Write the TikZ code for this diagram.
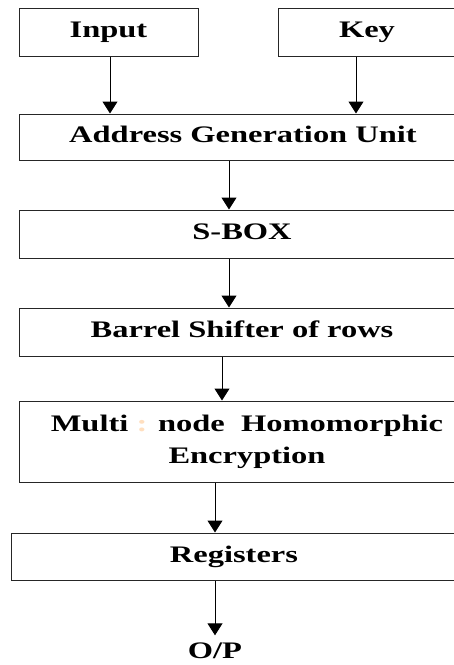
\documentclass[tikz,border=0pt]{standalone}
\usepackage{fontspec}
\setmainfont{Liberation Serif}[FakeStretch=1.37]
\usetikzlibrary{arrows.meta}
\begin{document}
\begin{tikzpicture}[x=1pt,y=-1pt,
  boxbase/.style={draw=black!85,line width=1pt,inner sep=0pt,
    font=\fontsize{23.7}{32}\selectfont\bfseries},
  box/.style={boxbase,text height=16pt,text depth=5pt},
  arr/.style={draw=black,line width=1pt,-{Triangle[width=15pt,length=12pt]}},
  lbl/.style={inner sep=0pt,text height=16pt,text depth=5pt,font=\fontsize{23.7}{32}\selectfont\bfseries}]
\useasboundingbox (0,0) rectangle (454,665);
\clip (0,0) rectangle (454,665);
\fill[white] (0,0) rectangle (454,665);
\node[box,minimum width=179pt,minimum height=48pt] (inp) at (108.5,32) {Input};
\node[box,minimum width=178pt,minimum height=48pt] (key) at (367,32) {Key};
\node[box,minimum width=448pt,minimum height=46pt] (agu) at (243,137) {Address Generation Unit};
\node[box,minimum width=446pt,minimum height=48pt] (sbox) at (242,234) {S-BOX};
\node[box,minimum width=446pt,minimum height=48pt] (bar) at (242,332) {Barrel Shifter of rows};
\node[boxbase,minimum width=456pt,minimum height=81pt,align=center] (mhe) at (247,441.5)
  {Multi {\color{orange!25}:} node\ \ Homomorphic\\Encryption};
\node[box,minimum width=446pt,minimum height=47pt] (reg) at (234,556.5) {Registers};
\node[lbl] (op) at (215,653) {O/P};
\draw[arr] ([xshift=1.5pt]inp.south) -- ([xshift=1.5pt]inp.south |- agu.north);
\draw[arr] ([xshift=-11pt]key.south) -- ([xshift=-11pt]key.south |- agu.north);
\draw[arr] ([xshift=-14pt]agu.south) -- ([xshift=-14pt]agu.south |- sbox.north);
\draw[arr] ([xshift=-13pt]sbox.south) -- ([xshift=-13pt]sbox.south |- bar.north);
\draw[arr] ([xshift=-20pt]bar.south) -- ([xshift=-20pt]bar.south |- mhe.north);
\draw[arr] ([xshift=-32pt]mhe.south) -- ([xshift=-32pt]mhe.south |- reg.north);
\draw[arr] ([xshift=-19pt]reg.south) -- ([yshift=7pt]op.north);
\end{tikzpicture}
\end{document}
